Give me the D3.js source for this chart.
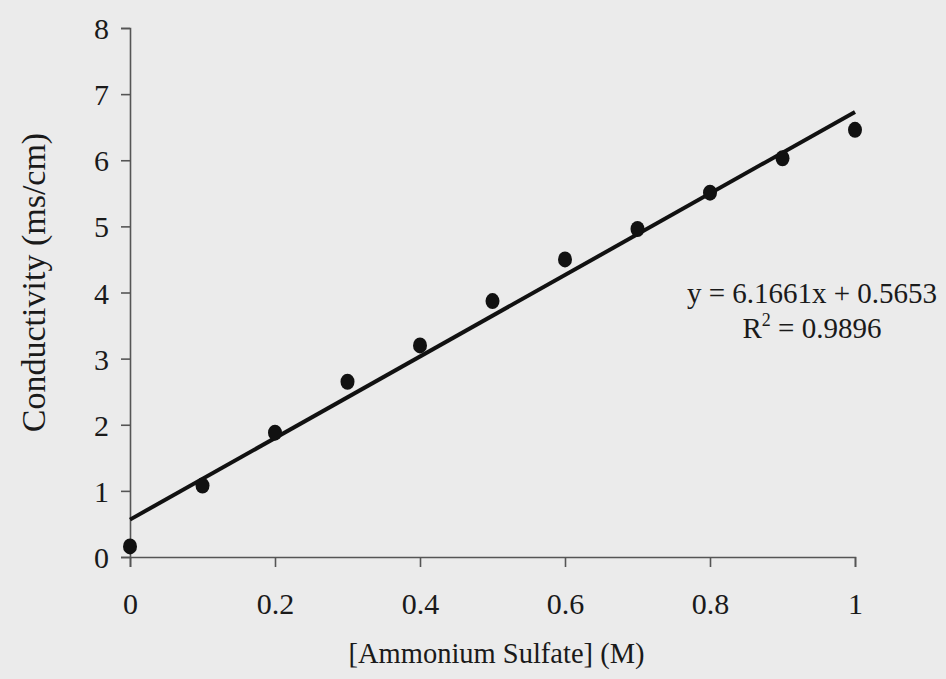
<!DOCTYPE html>
<html>
<head>
<meta charset="utf-8">
<script src="https://cdn.jsdelivr.net/npm/d3@7"></script>
<style>
  body { margin: 0; background: #ebebeb; }
  svg { display: block; }
  text { font-family: "Liberation Serif", "DejaVu Serif", serif; fill: #1a1a1a; }
</style>
</head>
<body>
<div id="chart"></div>
<script>
const Width = 946
const Height = 679

// measured points
const concentration = [0, 0.1, 0.2, 0.3, 0.4, 0.5, 0.6, 0.7, 0.8, 0.9, 1.0]
const conductivity = [0.16, 1.08, 1.88, 2.65, 3.2, 3.87, 4.5, 4.96, 5.51, 6.03, 6.46]

// linear fit shown on chart
const slope = 6.1661
const intercept = 0.5653
const rSquared = '0.9896'

const xTicks = [0, 0.2, 0.4, 0.6, 0.8, 1]
const yTicks = [0, 1, 2, 3, 4, 5, 6, 7, 8]

const svg = d3.select('#chart')
    .append('svg')
    .attr('width', Width)
    .attr('height', Height)

const x = d3.scaleLinear()
    .domain([0, 1])
    .range([130, 855])

const y = d3.scaleLinear()
    .domain([0, 8])
    .range([557, 28])

const xAxisCall = d3.axisBottom(x)
    .tickValues(xTicks)
    .tickFormat(d3.format('~g'))
    .tickSize(10)
    .tickPadding(26)

const yAxisCall = d3.axisLeft(y)
    .tickValues(yTicks)
    .tickFormat(d3.format('d'))
    .tickSize(9)
    .tickPadding(12)

const gx = svg.append('g')
    .attr('transform', `translate(0, ${y(0)})`)
    .call(xAxisCall)

const gy = svg.append('g')
    .attr('transform', `translate(${x(0)}, 0)`)
    .call(yAxisCall)

for (const g of [gx, gy]) {
    g.selectAll('path, line')
        .attr('stroke', '#555')
        .attr('stroke-width', 1.6)
    g.selectAll('text')
        .attr('font-size', 30)
        .attr('font-family', '"Liberation Serif", serif')
        .attr('fill', '#1a1a1a')
}
gx.selectAll('text').attr('dy', '0.71em')
gy.selectAll('text').attr('dy', '0.35em')

// trend line
const fit = d => slope * d + intercept
svg.append('line')
    .attr('x1', x(0))
    .attr('y1', y(fit(0)))
    .attr('x2', x(1))
    .attr('y2', y(fit(1)))
    .attr('stroke', '#111')
    .attr('stroke-width', 4)

const points = concentration.map((c, i) => ({ c, v: conductivity[i] }))

svg.selectAll('ellipse.pt')
    .data(points)
    .enter().append('ellipse')
    .attr('class', 'pt')
    .attr('cx', d => x(d.c))
    .attr('cy', d => y(d.v))
    .attr('rx', 7)
    .attr('ry', 8)
    .attr('fill', '#111')

// equation
const eq = svg.append('g')
    .attr('font-size', 29)
    .attr('text-anchor', 'middle')

eq.append('text')
    .attr('x', 812)
    .attr('y', 303)
    .text(`y = ${slope}x + ${intercept}`)

const r2 = eq.append('text')
    .attr('x', 812)
    .attr('y', 338)
r2.append('tspan').text('R')
r2.append('tspan').attr('font-size', 18).attr('dy', -12).text('2')
r2.append('tspan').attr('dy', 12).text(` = ${rSquared}`)

// axis titles
svg.append('text')
    .attr('x', (x(0) + x(1)) / 2 + 4)
    .attr('y', 663)
    .attr('text-anchor', 'middle')
    .attr('font-size', 28.5)
    .text('[Ammonium Sulfate] (M)')

svg.append('text')
    .attr('transform', `translate(45, ${(y(0) + y(8)) / 2 - 10}) rotate(-90)`)
    .attr('text-anchor', 'middle')
    .attr('font-size', 34)
    .text('Conductivity (ms/cm)')
</script>
</body>
</html>
